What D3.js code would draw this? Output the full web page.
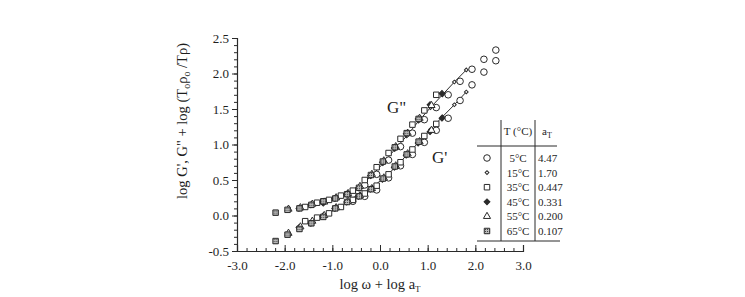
<!doctype html>
<html>
<head>
<meta charset="utf-8">
<script src="https://d3js.org/d3.v7.min.js"></script>
<style>
  body { margin: 0; background: #fff; }
  svg text { font-family: "Liberation Serif", "Times New Roman", serif; fill: #1e1e1e; }
</style>
</head>
<body>
<svg width="745" height="297"></svg>
<script>
// legend table
var temps = ["5°C", "15°C", "35°C", "45°C", "55°C", "65°C"];
var aT = ["4.47", "1.70", "0.447", "0.331", "0.200", "0.107"];

// log w + log aT, G'' and G' per temperature
var x5 = [-0.57, -0.32, -0.07, 0.18, 0.43, 0.68, 0.93, 1.18, 1.43, 1.68, 1.93, 2.18, 2.43];
var gpp5 = [0.30, 0.43, 0.58, 0.78, 0.97, 1.16, 1.35, 1.52, 1.70, 1.89, 2.06, 2.20, 2.33];
var gp5 = [0.20, 0.27, 0.36, 0.53, 0.70, 0.86, 1.03, 1.20, 1.37, 1.62, 1.84, 2.02, 2.18];

var x15 = [-1.19, -0.94, -0.69, -0.44, -0.19, 0.06, 0.31, 0.56, 0.81, 1.06, 1.31, 1.56, 1.81];
var gpp15 = [0.16, 0.23, 0.30, 0.40, 0.55, 0.73, 0.93, 1.12, 1.33, 1.52, 1.70, 1.88, 2.05];
var gp15 = [-0.02, 0.09, 0.19, 0.28, 0.38, 0.52, 0.67, 0.85, 1.03, 1.21, 1.39, 1.56, 1.74];

var x35 = [-1.57, -1.32, -1.07, -0.82, -0.57, -0.32, -0.07, 0.18, 0.43, 0.68, 0.93, 1.18];
var gpp35 = [0.12, 0.18, 0.22, 0.28, 0.35, 0.50, 0.68, 0.88, 1.08, 1.28, 1.48, 1.70];
var gp35 = [-0.08, -0.03, 0.03, 0.12, 0.22, 0.31, 0.42, 0.58, 0.75, 0.93, 1.12, 1.29];

var x45 = [-1.70, -1.45, -1.20, -0.95, -0.70, -0.45, -0.20, 0.05, 0.30, 0.55, 0.80, 1.05, 1.30];
var gpp45 = [0.10, 0.15, 0.19, 0.24, 0.30, 0.39, 0.56, 0.75, 0.95, 1.15, 1.36, 1.56, 1.72];
var gp45 = [-0.17, -0.11, -0.01, 0.10, 0.19, 0.27, 0.37, 0.51, 0.68, 0.85, 1.02, 1.18, 1.37];

var x55 = [-1.92, -1.67, -1.42, -1.17, -0.92, -0.67, -0.42, -0.17, 0.08, 0.33, 0.58, 0.83, 1.08];
var gpp55 = [0.09, 0.11, 0.16, 0.19, 0.25, 0.31, 0.41, 0.58, 0.77, 0.97, 1.16, 1.37, 1.55];
var gp55 = [-0.25, -0.16, -0.08, 0.00, 0.11, 0.20, 0.28, 0.38, 0.53, 0.70, 0.87, 1.04, 1.20];

var x65 = [-2.19, -1.94, -1.69, -1.44, -1.19, -0.94, -0.69, -0.44, -0.19, 0.06, 0.31, 0.56, 0.81];
var gpp65 = [0.04, 0.08, 0.10, 0.15, 0.20, 0.24, 0.30, 0.39, 0.57, 0.76, 0.96, 1.16, 1.36];
var gp65 = [-0.36, -0.27, -0.19, -0.11, -0.02, 0.10, 0.19, 0.27, 0.37, 0.52, 0.69, 0.86, 1.04];

var xTicks = [-3, -2, -1, 0, 1, 2, 3];
var yTicks = [-0.5, 0, 0.5, 1, 1.5, 2, 2.5];

var ink = "#2a2a2a";
var svg = d3.select("svg");

var x = d3.scaleLinear().domain([-3, 3]).range([237, 523]);
var y = d3.scaleLinear().domain([-0.5, 2.5]).range([251, 38]);

// hatch for the 65°C squares
var defs = svg.append("defs");
var pat = defs.append("pattern").attr("id", "hatch").attr("patternUnits", "userSpaceOnUse")
    .attr("width", 2).attr("height", 2);
pat.append("rect").attr("width", 2).attr("height", 2).attr("fill", "#bbb");
pat.append("rect").attr("width", 1).attr("height", 1).attr("fill", "#444");

// symbol per temperature; diamonds are squares turned 45 degrees
var styles = [
  {sym: d3.symbolCircle, size: 34, fill: "none", rot: 0},
  {sym: d3.symbolSquare, size: 7, fill: "none", rot: 45},
  {sym: d3.symbolSquare, size: 30, fill: "none", rot: 0},
  {sym: d3.symbolSquare, size: 17, fill: ink, rot: 45},
  {sym: d3.symbolTriangle, size: 22, fill: "none", rot: 0},
  {sym: d3.symbolSquare, size: 30, fill: "url(#hatch)", rot: 0}
];

var series = [
  [x5, gpp5, gp5], [x15, gpp15, gp15], [x35, gpp35, gp35],
  [x45, gpp45, gp45], [x55, gpp55, gp55], [x65, gpp65, gp65]
];

// axes
svg.append("g").attr("transform", "translate(237,0)")
    .call(d3.axisLeft(y).tickValues(yTicks).tickSize(5).tickFormat(function(d) { return d.toFixed(1); }));
svg.append("g").attr("transform", "translate(237,0)")
    .call(d3.axisLeft(y).tickValues(d3.range(-0.5, 2.51, 0.1)).tickSize(3).tickFormat(""))
    .select(".domain").remove();
svg.append("g").attr("transform", "translate(0,251)")
    .call(d3.axisBottom(x).tickValues(xTicks).tickSize(-6).tickPadding(10).tickFormat(function(d) { return d.toFixed(1); }));
svg.append("g").attr("transform", "translate(0,251)")
    .call(d3.axisBottom(x).tickValues(d3.range(-3, 3.01, 0.2)).tickSize(-3).tickFormat(""))
    .select(".domain").remove();

svg.selectAll(".domain").attr("stroke", ink).attr("stroke-width", 1.2);
svg.selectAll(".tick line").attr("stroke", ink);
svg.selectAll(".tick text").style("font-family", "Liberation Serif, serif").style("font-size", "13px").attr("fill", "#1e1e1e");

// lines through the 15°C points
var line = d3.line().x(function(d) { return x(d[0]); }).y(function(d) { return y(d[1]); });
svg.append("path").datum(d3.zip(x15, gpp15)).attr("d", line).attr("fill", "none").attr("stroke", ink).attr("stroke-width", 1);
svg.append("path").datum(d3.zip(x15, gp15)).attr("d", line).attr("fill", "none").attr("stroke", ink).attr("stroke-width", 1);

function mark(sel, st) {
  sel.attr("d", d3.symbol().type(st.sym).size(st.size))
    .attr("fill", st.fill === "none" ? "#fff" : st.fill)
    .attr("stroke", ink).attr("stroke-width", 1);
}

// points
series.forEach(function(s, i) {
  var st = styles[i];
  var pts = d3.zip(s[0], s[1]).concat(d3.zip(s[0], s[2]));
  svg.append("g").selectAll("path").data(pts).enter().append("path")
    .attr("transform", function(d) { return "translate(" + x(d[0]) + "," + y(d[1]) + ") rotate(" + st.rot + ")"; })
    .call(mark, st);
});

// curve labels
svg.append("text").attr("x", 387).attr("y", 113).style("font-size", "17px").text("G\"");
svg.append("text").attr("x", 432).attr("y", 163).style("font-size", "17px").text("G'");

// axis titles
var yt = svg.append("text").attr("transform", "translate(187,121) rotate(-90)")
    .attr("text-anchor", "middle").style("font-size", "14.5px");
yt.append("tspan").text("log G', G\" + log (T");
yt.append("tspan").attr("dy", 3).style("font-size", "10px").text("o");
yt.append("tspan").attr("dy", -3).text("\u03c1");
yt.append("tspan").attr("dy", 3).style("font-size", "10px").text("o");
yt.append("tspan").attr("dy", -3).text(" /T\u03c1)");

var xt = svg.append("text").attr("x", 380).attr("y", 289)
    .attr("text-anchor", "middle").style("font-size", "14.5px");
xt.append("tspan").text("log \u03c9 + log a");
xt.append("tspan").attr("dy", 3).style("font-size", "9px").text("T");

// legend table
var lg = svg.append("g");
lg.append("line").attr("x1", 501).attr("x2", 501).attr("y1", 120).attr("y2", 241).attr("stroke", ink);
lg.append("line").attr("x1", 535).attr("x2", 535).attr("y1", 120).attr("y2", 241).attr("stroke", ink);
lg.append("line").attr("x1", 477).attr("x2", 557).attr("y1", 146).attr("y2", 146).attr("stroke", ink);
lg.append("line").attr("x1", 477).attr("x2", 560).attr("y1", 241).attr("y2", 241).attr("stroke", ink);
lg.append("text").attr("x", 518).attr("y", 135).attr("text-anchor", "middle").style("font-size", "11px").text("T (°C)");
var ah = lg.append("text").attr("x", 542).attr("y", 135).style("font-size", "11px");
ah.append("tspan").text("a");
ah.append("tspan").attr("dy", 3).style("font-size", "8px").text("T");

var rowY = d3.scalePoint().domain(temps).range([158, 231]);
temps.forEach(function(t, i) {
  var st = styles[i];
  lg.append("path").attr("transform", "translate(487," + rowY(t) + ") rotate(" + st.rot + ")")
    .call(mark, st);
  lg.append("text").attr("x", 518).attr("y", rowY(t) + 4).attr("text-anchor", "middle").style("font-size", "11px").text(t);
  lg.append("text").attr("x", 538).attr("y", rowY(t) + 4).style("font-size", "11px").text(aT[i]);
});
</script>
</body>
</html>
